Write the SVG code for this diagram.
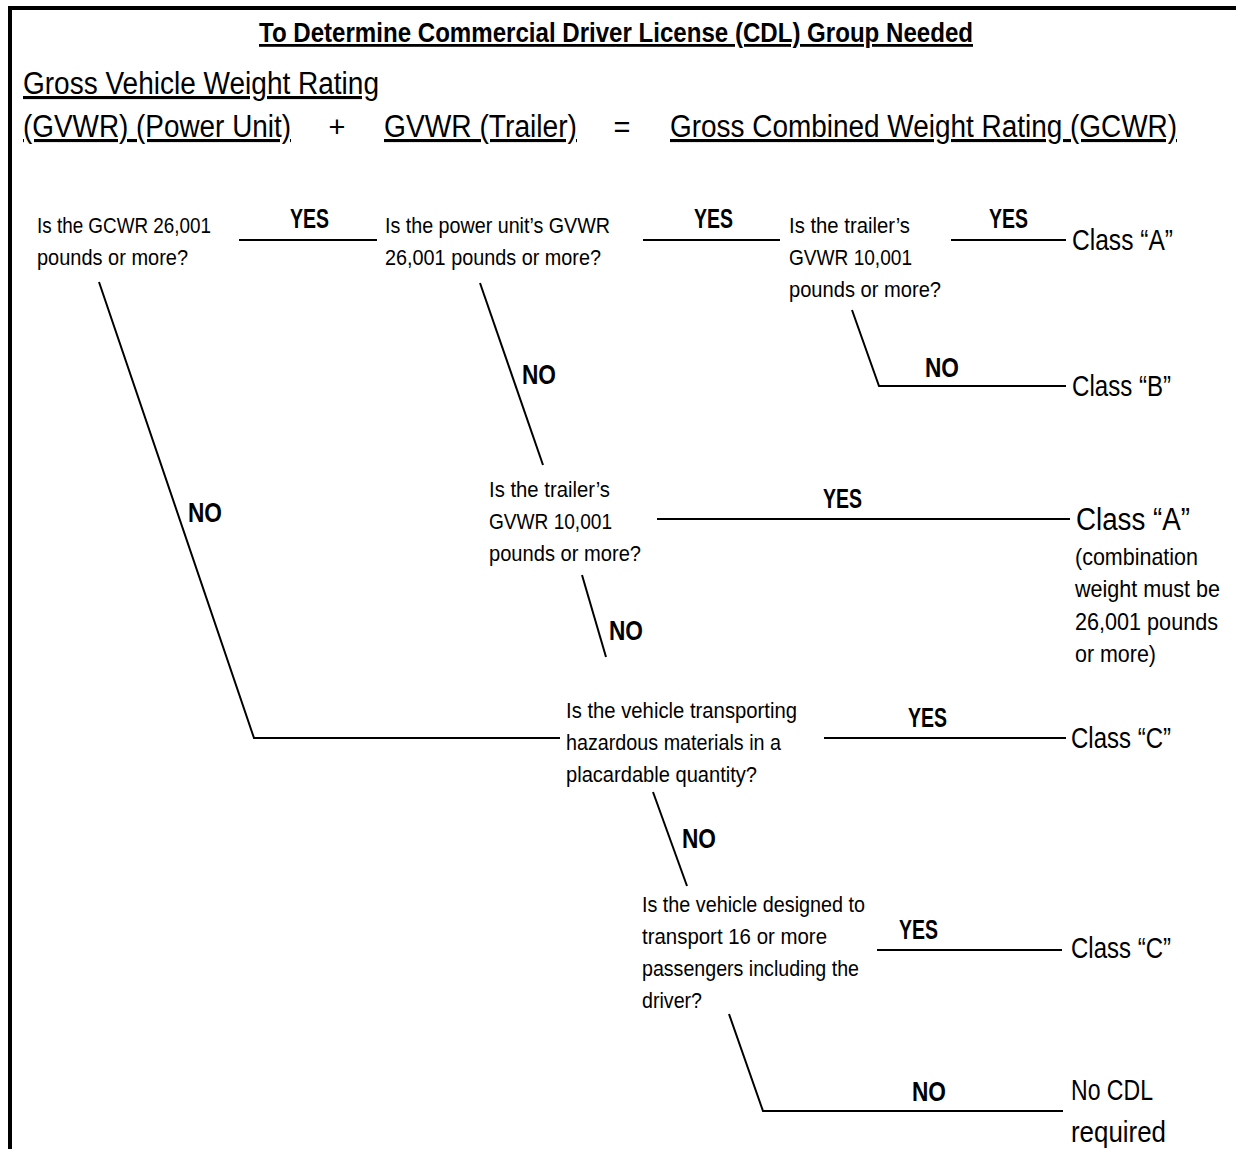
<svg xmlns="http://www.w3.org/2000/svg" width="1236" height="1149" viewBox="0 0 1236 1149">
<style>
text{font-family:"Liberation Sans",Arial,sans-serif;fill:#000}
.t{font-size:28px;font-weight:bold;text-decoration:underline}
.h{font-size:31px;text-decoration:underline}
.hp{font-size:29px}
.q{font-size:21.5px}
.lb{font-size:28px;font-weight:bold}
.c{font-size:29px}
.c2{font-size:31px}
.s{font-size:24px}
.ln{stroke:#000;stroke-width:2;fill:none}
</style>
<rect width="1236" height="1149" fill="#fff"/>
<path d="M10,1149 V8 H1236" stroke="#000" stroke-width="4" fill="none"/>
<g id="header">
<text class="t" x="259" y="42" textLength="714" lengthAdjust="spacingAndGlyphs">To Determine Commercial Driver License (CDL) Group Needed</text>
<text class="h" x="23" y="94" textLength="356" lengthAdjust="spacingAndGlyphs">Gross Vehicle Weight Rating</text>
<text class="h" x="23" y="137" textLength="268" lengthAdjust="spacingAndGlyphs">(GVWR) (Power Unit)</text>
<text class="hp" x="337" y="137" text-anchor="middle">+</text>
<text class="h" x="384" y="137" textLength="193" lengthAdjust="spacingAndGlyphs">GVWR (Trailer)</text>
<text class="hp" x="622" y="137" text-anchor="middle">=</text>
<text class="h" x="670" y="137" textLength="507" lengthAdjust="spacingAndGlyphs">Gross Combined Weight Rating (GCWR)</text>
</g>
<g id="connectors">
<path class="ln" d="M239,240 H377"/>
<path class="ln" d="M643,240 H780"/>
<path class="ln" d="M951,240 H1066"/>
<path class="ln" d="M852,310 L879,386 H1066"/>
<path class="ln" d="M99,282 L254,738 H560"/>
<path class="ln" d="M480,283 L543,465"/>
<path class="ln" d="M657,519 H1070"/>
<path class="ln" d="M582,575 L606,657"/>
<path class="ln" d="M824,738 H1066"/>
<path class="ln" d="M653,792 L687,886"/>
<path class="ln" d="M877,950 H1062"/>
<path class="ln" d="M729,1014 L763,1111 H1063"/>
<text class="lb" x="290" y="228" textLength="39" lengthAdjust="spacingAndGlyphs">YES</text>
<text class="lb" x="694" y="228" textLength="39" lengthAdjust="spacingAndGlyphs">YES</text>
<text class="lb" x="989" y="228" textLength="39" lengthAdjust="spacingAndGlyphs">YES</text>
<text class="lb" x="925" y="377" textLength="34" lengthAdjust="spacingAndGlyphs">NO</text>
<text class="lb" x="188" y="522" textLength="34" lengthAdjust="spacingAndGlyphs">NO</text>
<text class="lb" x="522" y="384" textLength="34" lengthAdjust="spacingAndGlyphs">NO</text>
<text class="lb" x="823" y="508" textLength="39" lengthAdjust="spacingAndGlyphs">YES</text>
<text class="lb" x="609" y="640" textLength="34" lengthAdjust="spacingAndGlyphs">NO</text>
<text class="lb" x="908" y="727" textLength="39" lengthAdjust="spacingAndGlyphs">YES</text>
<text class="lb" x="682" y="848" textLength="34" lengthAdjust="spacingAndGlyphs">NO</text>
<text class="lb" x="899" y="939" textLength="39" lengthAdjust="spacingAndGlyphs">YES</text>
<text class="lb" x="912" y="1101" textLength="34" lengthAdjust="spacingAndGlyphs">NO</text>
</g>
<g id="q1"><text class="q" x="37" y="233" textLength="174" lengthAdjust="spacingAndGlyphs">Is the GCWR 26,001</text><text class="q" x="37" y="265" textLength="151" lengthAdjust="spacingAndGlyphs">pounds or more?</text></g>
<g id="q2"><text class="q" x="385" y="233" textLength="225" lengthAdjust="spacingAndGlyphs">Is the power unit’s GVWR</text><text class="q" x="385" y="265" textLength="216" lengthAdjust="spacingAndGlyphs">26,001 pounds or more?</text></g>
<g id="q3"><text class="q" x="789" y="233" textLength="121" lengthAdjust="spacingAndGlyphs">Is the trailer’s</text><text class="q" x="789" y="265" textLength="123" lengthAdjust="spacingAndGlyphs">GVWR 10,001</text><text class="q" x="789" y="297" textLength="152" lengthAdjust="spacingAndGlyphs">pounds or more?</text></g>
<g id="q4"><text class="q" x="489" y="497" textLength="121" lengthAdjust="spacingAndGlyphs">Is the trailer’s</text><text class="q" x="489" y="529" textLength="123" lengthAdjust="spacingAndGlyphs">GVWR 10,001</text><text class="q" x="489" y="561" textLength="152" lengthAdjust="spacingAndGlyphs">pounds or more?</text></g>
<g id="q5"><text class="q" x="566" y="718" textLength="231" lengthAdjust="spacingAndGlyphs">Is the vehicle transporting</text><text class="q" x="566" y="750" textLength="215" lengthAdjust="spacingAndGlyphs">hazardous materials in a</text><text class="q" x="566" y="782" textLength="191" lengthAdjust="spacingAndGlyphs">placardable quantity?</text></g>
<g id="q6"><text class="q" x="642" y="912" textLength="223" lengthAdjust="spacingAndGlyphs">Is the vehicle designed to</text><text class="q" x="642" y="944" textLength="185" lengthAdjust="spacingAndGlyphs">transport 16 or more</text><text class="q" x="642" y="976" textLength="217" lengthAdjust="spacingAndGlyphs">passengers including the</text><text class="q" x="642" y="1008" textLength="60" lengthAdjust="spacingAndGlyphs">driver?</text></g>
<g id="r1"><text class="c" x="1072" y="250" textLength="101" lengthAdjust="spacingAndGlyphs">Class “A”</text></g>
<g id="r2"><text class="c" x="1072" y="396" textLength="99" lengthAdjust="spacingAndGlyphs">Class “B”</text></g>
<g id="r3"><text class="c2" x="1076" y="530" textLength="114" lengthAdjust="spacingAndGlyphs">Class “A”</text><text class="s" x="1075" y="565" textLength="123" lengthAdjust="spacingAndGlyphs">(combination</text><text class="s" x="1075" y="597" textLength="145" lengthAdjust="spacingAndGlyphs">weight must be</text><text class="s" x="1075" y="630" textLength="143" lengthAdjust="spacingAndGlyphs">26,001 pounds</text><text class="s" x="1075" y="662" textLength="81" lengthAdjust="spacingAndGlyphs">or more)</text></g>
<g id="r4"><text class="c" x="1071" y="748" textLength="100" lengthAdjust="spacingAndGlyphs">Class “C”</text></g>
<g id="r5"><text class="c" x="1071" y="958" textLength="100" lengthAdjust="spacingAndGlyphs">Class “C”</text></g>
<g id="r6"><text class="c" x="1071" y="1100" textLength="82" lengthAdjust="spacingAndGlyphs">No CDL</text><text class="c" x="1071" y="1142" textLength="95" lengthAdjust="spacingAndGlyphs">required</text></g>
</svg>
